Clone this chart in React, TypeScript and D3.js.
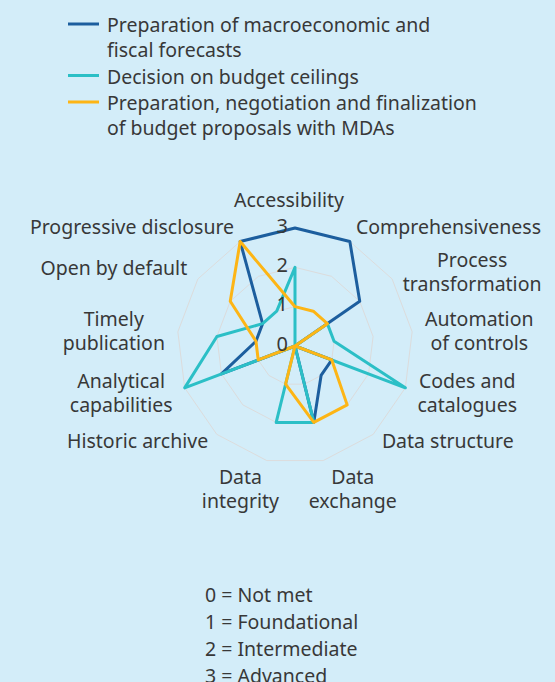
import React, { useEffect, useRef } from "react";
import * as d3 from "d3";

// axis labels, one entry per axis (multi-line labels split into lines)
const axisLabels = [
  ["Accessibility"],
  ["Comprehensiveness"],
  ["Process", "transformation"],
  ["Automation", "of controls"],
  ["Codes and", "catalogues"],
  ["Data structure"],
  ["Data", "exchange"],
  ["Data", "integrity"],
  ["Historic archive"],
  ["Analytical", "capabilities"],
  ["Timely", "publication"],
  ["Open by default"],
  ["Progressive disclosure"],
];

const macroFiscal = [3, 3, 2, 0, 1, 1, 2, 0, 0, 2, 1, 1, 3];
const budgetCeilings = [2, 0, 1, 1, 3, 0, 2, 2, 0, 3, 2, 1, 1];
const budgetProposals = [1, 1, 1, 0, 1, 2, 2, 1, 0, 1, 1, 2, 3];

const seriesNames = [
  ["Preparation of macroeconomic and", "fiscal forecasts"],
  ["Decision on budget ceilings"],
  ["Preparation, negotiation and finalization", "of budget proposals with MDAs"],
];
const seriesColors = ["#1c5e9e", "#2bbfc6", "#fdb515"];

const levels = [0, 1, 2, 3];
const levelNames = ["Not met", "Foundational", "Intermediate", "Advanced"];

const W = 555;
const H = 682;
const FONT = "'Noto Sans', Lato, sans-serif";
const FS = 19.5;
const INK = "#383838";

const RadarChart = () => {
  const svgRef = useRef<SVGSVGElement>(null);

  useEffect(() => {
    const svg = d3.select(svgRef.current);
    svg.selectAll("*").remove();

    svg.append("rect").attr("width", W).attr("height", H).attr("fill", "#d3edf9");

    const cx = 295;
    const cy = 346;
    const n = axisLabels.length;
    const r = d3.scaleLinear().domain([0, 3]).range([0, 118]);
    const angle = (i: number) => (i * 2 * Math.PI) / n;

    const chart = svg.append("g").attr("transform", `translate(${cx},${cy})`);

    // grid rings
    const ring = d3
      .lineRadial<number>()
      .angle((_, i) => angle(i))
      .radius((d) => r(d))
      .curve(d3.curveLinearClosed);

    levels
      .filter((l) => l > 0)
      .forEach((l) => {
        chart
          .append("path")
          .attr("d", ring(axisLabels.map(() => l)))
          .attr("fill", "none")
          .attr("stroke", "#dcdcdc")
          .attr("stroke-width", 1);
      });

    // series
    [macroFiscal, budgetCeilings, budgetProposals].forEach((values, k) => {
      chart
        .append("path")
        .attr("d", ring(values))
        .attr("fill", "none")
        .attr("stroke", seriesColors[k])
        .attr("stroke-width", 3)
        .attr("stroke-linejoin", "round");
    });

    // tick labels along the first axis
    chart
      .selectAll(".tick")
      .data(levels)
      .enter()
      .append("text")
      .attr("x", -7)
      .attr("y", (d) => -r(d) - 3)
      .attr("text-anchor", "end")
      .attr("dominant-baseline", "central")
      .attr("font-family", FONT)
      .attr("font-size", 20)
      .attr("fill", INK)
      .text((d) => d);

    // axis labels (one text per label, lines as tspans)
    const lr = 131;
    axisLabels.forEach((lines, i) => {
      const a = angle(i);
      const s = Math.sin(a);
      const c = Math.cos(a);
      const px = cx + lr * s;
      const py = cy - lr * c;
      const g = svg.append("g");
      const txt = g
        .append("text")
        .attr("text-anchor", "middle")
        .attr("font-family", FONT)
        .attr("font-size", FS)
        .attr("fill", INK);
      lines.forEach((t, j) => {
        txt.append("tspan").attr("x", 0).attr("y", j * 24).text(t);
      });
      const bb = (g.node() as SVGGElement).getBBox();
      const lift = lines.length === 1 ? 4 : 0;
      let tx;
      let ty;
      if (Math.abs(s) < 0.05) {
        tx = px - (bb.x + bb.width / 2) - 6;
        ty = py - (bb.y + bb.height) - 2;
      } else if (c < -0.9) {
        ty = py - bb.y - 10;
        tx = s > 0 ? px - 0.2 * bb.width - bb.x : px + 0.2 * bb.width - (bb.x + bb.width);
      } else if (s > 0) {
        tx = px - bb.x;
        ty = py - (bb.y + bb.height / 2) - lift;
      } else {
        tx = px - (bb.x + bb.width);
        ty = py - (bb.y + bb.height / 2) - lift;
      }
      g.attr("transform", `translate(${tx},${ty})`);
    });

    // top legend
    const legend = svg.append("g");
    let y = 24;
    seriesNames.forEach((lines, k) => {
      legend
        .append("line")
        .attr("x1", 68)
        .attr("x2", 99)
        .attr("y1", y)
        .attr("y2", y)
        .attr("stroke", seriesColors[k])
        .attr("stroke-width", 3);
      const txt = legend
        .append("text")
        .attr("dominant-baseline", "central")
        .attr("font-family", FONT)
        .attr("font-size", FS)
        .attr("fill", INK);
      lines.forEach((t, j) => {
        txt.append("tspan").attr("x", 107).attr("y", y + j * 25).text(t);
      });
      y += lines.length * 25 + 1.5;
    });

    // level key
    svg
      .append("g")
      .selectAll("text")
      .data(levels)
      .enter()
      .append("text")
      .attr("x", 205)
      .attr("y", (d, i) => 594 + i * 27)
      .attr("dominant-baseline", "central")
      .attr("font-family", FONT)
      .attr("font-size", FS)
      .attr("fill", INK)
      .text((d, i) => `${d} = ${levelNames[i]}`);
  }, []);

  return (
    <svg
      ref={svgRef}
      width={W}
      height={H}
      style={{ position: "absolute", left: 0, top: 0, display: "block" }}
    ></svg>
  );
};

export default function App() {
  return <RadarChart />;
}
